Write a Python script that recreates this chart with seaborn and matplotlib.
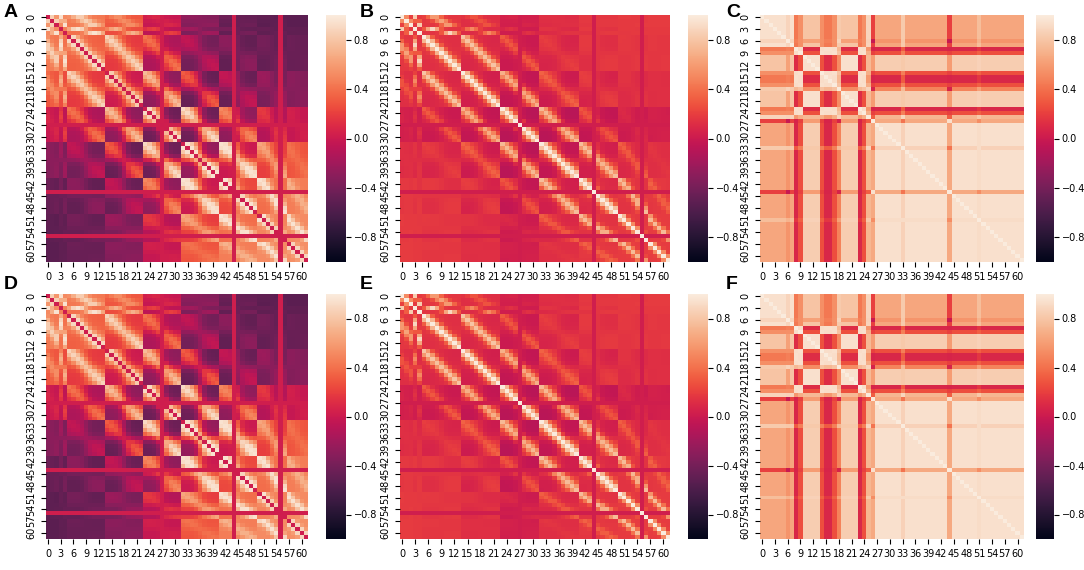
import numpy as np
import seaborn as sns
import matplotlib.pyplot as plt

# ---------------------------
# Data: 62-channel EEG montage
# ---------------------------
channel_names = ["FP1", "FPZ", "FP2", "AF3", "AF4",
                 "F7", "F5", "F3", "F1", "FZ", "F2", "F4", "F6", "F8",
                 "FT7", "FC5", "FC3", "FC1", "FCZ", "FC2", "FC4", "FC6", "FT8",
                 "T7", "C5", "C3", "C1", "CZ", "C2", "C4", "C6", "T8",
                 "TP7", "CP5", "CP3", "CP1", "CPZ", "CP2", "CP4", "CP6", "TP8",
                 "P7", "P5", "P3", "P1", "PZ", "P2", "P4", "P6", "P8",
                 "PO7", "PO5", "PO3", "POZ", "PO4", "PO6", "PO8",
                 "CB1", "O1", "OZ", "O2", "CB2"]

# lateral / anterior-posterior scalp positions of each channel
pos_x = [-1.5, 0, 1.5, -2, 2,
         -4, -3, -2, -1, 0, 1, 2, 3, 4,
         -4, -3, -2, -1, 0, 1, 2, 3, 4,
         -4, -3, -2, -1, 0, 1, 2, 3, 4,
         -4, -3, -2, -1, 0, 1, 2, 3, 4,
         -4, -3, -2, -1, 0, 1, 2, 3, 4,
         -4, -3, -1.5, 0, 1.5, 3, 4,
         -3, -1.5, 0, 1.5, 3]
pos_y = [0, 0, 0, 0.6, 0.6,
         1.2, 1.2, 1.2, 1.2, 1.2, 1.2, 1.2, 1.2, 1.2,
         2, 2, 2, 2, 2, 2, 2, 2, 2,
         3, 3, 3, 3, 3, 3, 3, 3, 3,
         4, 4, 4, 4, 4, 4, 4, 4, 4,
         5, 5, 5, 5, 5, 5, 5, 5, 5,
         6, 6, 6, 6, 6, 6, 6,
         7, 7, 7, 7, 7]

# channels with a flat (~0) correlation row / column
flat_channels = [27, 44, 55]

# panel A/D: neighbour weight, spread, front-back weight, left-right weight
params_A = {"near": 0.6, "sigma": 1.4, "ap": 0.55, "lat": 0.5, "base": 0.0}
# panel B/E
params_B = {"near": 0.85, "sigma": 1.1, "ap": 0.0, "lat": 0.15, "base": 0.04, "edge": 0.15}

# panel C/F: channel type per channel and the loading of each type
types_C = (["fp"] * 6 + ["f6", "fp", "g1a", "g1b"] + ["g2f"] * 4
           + ["g1b", "g1a", "g1a", "g1b", "mx"] + ["g2f"] * 4
           + ["g1a", "g1b", "c25", "c26"] + ["g2"] * 6 + ["c33"]
           + ["g2"] * 10 + ["c26"] + ["g2"] * 6 + ["c51"] + ["g2"] * 10)
loadings_C = {
    "g2": [1.0, 0.08, 0.12, 0.0],
    "g2f": [1.0, 0.08, 0.12, 0.5],
    "g1a": [0.0, 1.0, 0.05, 0.1],
    "g1b": [0.2, 1.0, 0.05, 0.1],
    "fp": [0.70, 0.45, 0.55, 0.6],
    "f6": [0.50, 0.45, 0.74, 0.3],
    "mx": [0.35, 0.65, 0.45, 0.2],
    "c25": [0.60, 0.50, 0.35, 0.2],
    "c26": [0.78, 0.10, -0.62, 0.0],
    "c33": [0.85, 0.30, 0.40, 0.1],
    "c51": [0.95, 0.15, 0.30, 0.1],
}
reliability_C = 0.94

x = np.array(pos_x, dtype=float)
y = np.array(pos_y, dtype=float)
n = len(channel_names)


def spatial_corr(p, diag):
    dist2 = (x[:, None] - x[None, :]) ** 2 + (y[:, None] - y[None, :]) ** 2
    near = np.exp(-dist2 / (2 * p["sigma"] ** 2))
    ap = np.tanh((y - 3.0) / 1.5)
    lat = np.tanh(x / 1.2) * np.exp(-(y - 3.5) ** 2 / (2 * 1.5 ** 2))
    m = (p["base"] + p["near"] * near + p["ap"] * np.outer(ap, ap)
         + p["lat"] * np.outer(lat, lat))
    if "edge" in p:
        q = np.abs(ap)
        m += p["edge"] * np.outer(q, q)
    m = np.clip(m, -0.95, 0.95)
    m[flat_channels, :] = 0.03
    m[:, flat_channels] = 0.03
    np.fill_diagonal(m, diag)
    return m


def loading_corr(types, loads, rel):
    v = np.array([loads[t] for t in types], dtype=float)
    v /= np.linalg.norm(v, axis=1, keepdims=True)
    m = rel * (v @ v.T)
    np.fill_diagonal(m, 1.0)
    return m


mat_A = spatial_corr(params_A, 0.02)
mat_B = spatial_corr(params_B, 1.0)
mat_C = loading_corr(types_C, loadings_C, reliability_C)

panels = [("A", mat_A), ("B", mat_B), ("C", mat_C),
          ("D", mat_A), ("E", mat_B), ("F", mat_C)]

# ---------------------------
# Layout (pixel boxes of the 1084x570 figure)
# ---------------------------
W, H = 1084, 570
col_hm = [(46, 262), (400, 270), (760, 264)]
col_cb = [(326, 20), (688, 20), (1036, 18)]
row_y = [(15, 247), (294, 245)]
letter_x = [4, 360, 726]
letter_y = [4, 276]

fig = plt.figure(figsize=(W / 100, H / 100), dpi=100)

for k, (letter, mat) in enumerate(panels):
    r, c = divmod(k, 3)
    top, h = row_y[r]
    hx, hw = col_hm[c]
    cx, cw = col_cb[c]
    ax = fig.add_axes([hx / W, (H - top - h) / H, hw / W, h / H])
    cax = fig.add_axes([cx / W, (H - top - h) / H, cw / W, h / H])
    sns.heatmap(mat, ax=ax, cbar_ax=cax, cmap="rocket", vmin=-1, vmax=1,
                xticklabels=3, yticklabels=3)
    ax.tick_params(labelsize=7)
    plt.setp(ax.get_yticklabels(), rotation=90, va="center")
    plt.setp(ax.get_xticklabels(), rotation=0)
    cax.set_yticks([-0.8, -0.4, 0.0, 0.4, 0.8])
    cax.tick_params(labelsize=7, pad=2)
    fig.text(letter_x[c] / W, 1 - letter_y[r] / H, letter, fontsize=14,
             fontweight="bold", family=["Liberation Sans", "DejaVu Sans"],
             va="top", ha="left")

plt.savefig("out.png", dpi=100)
